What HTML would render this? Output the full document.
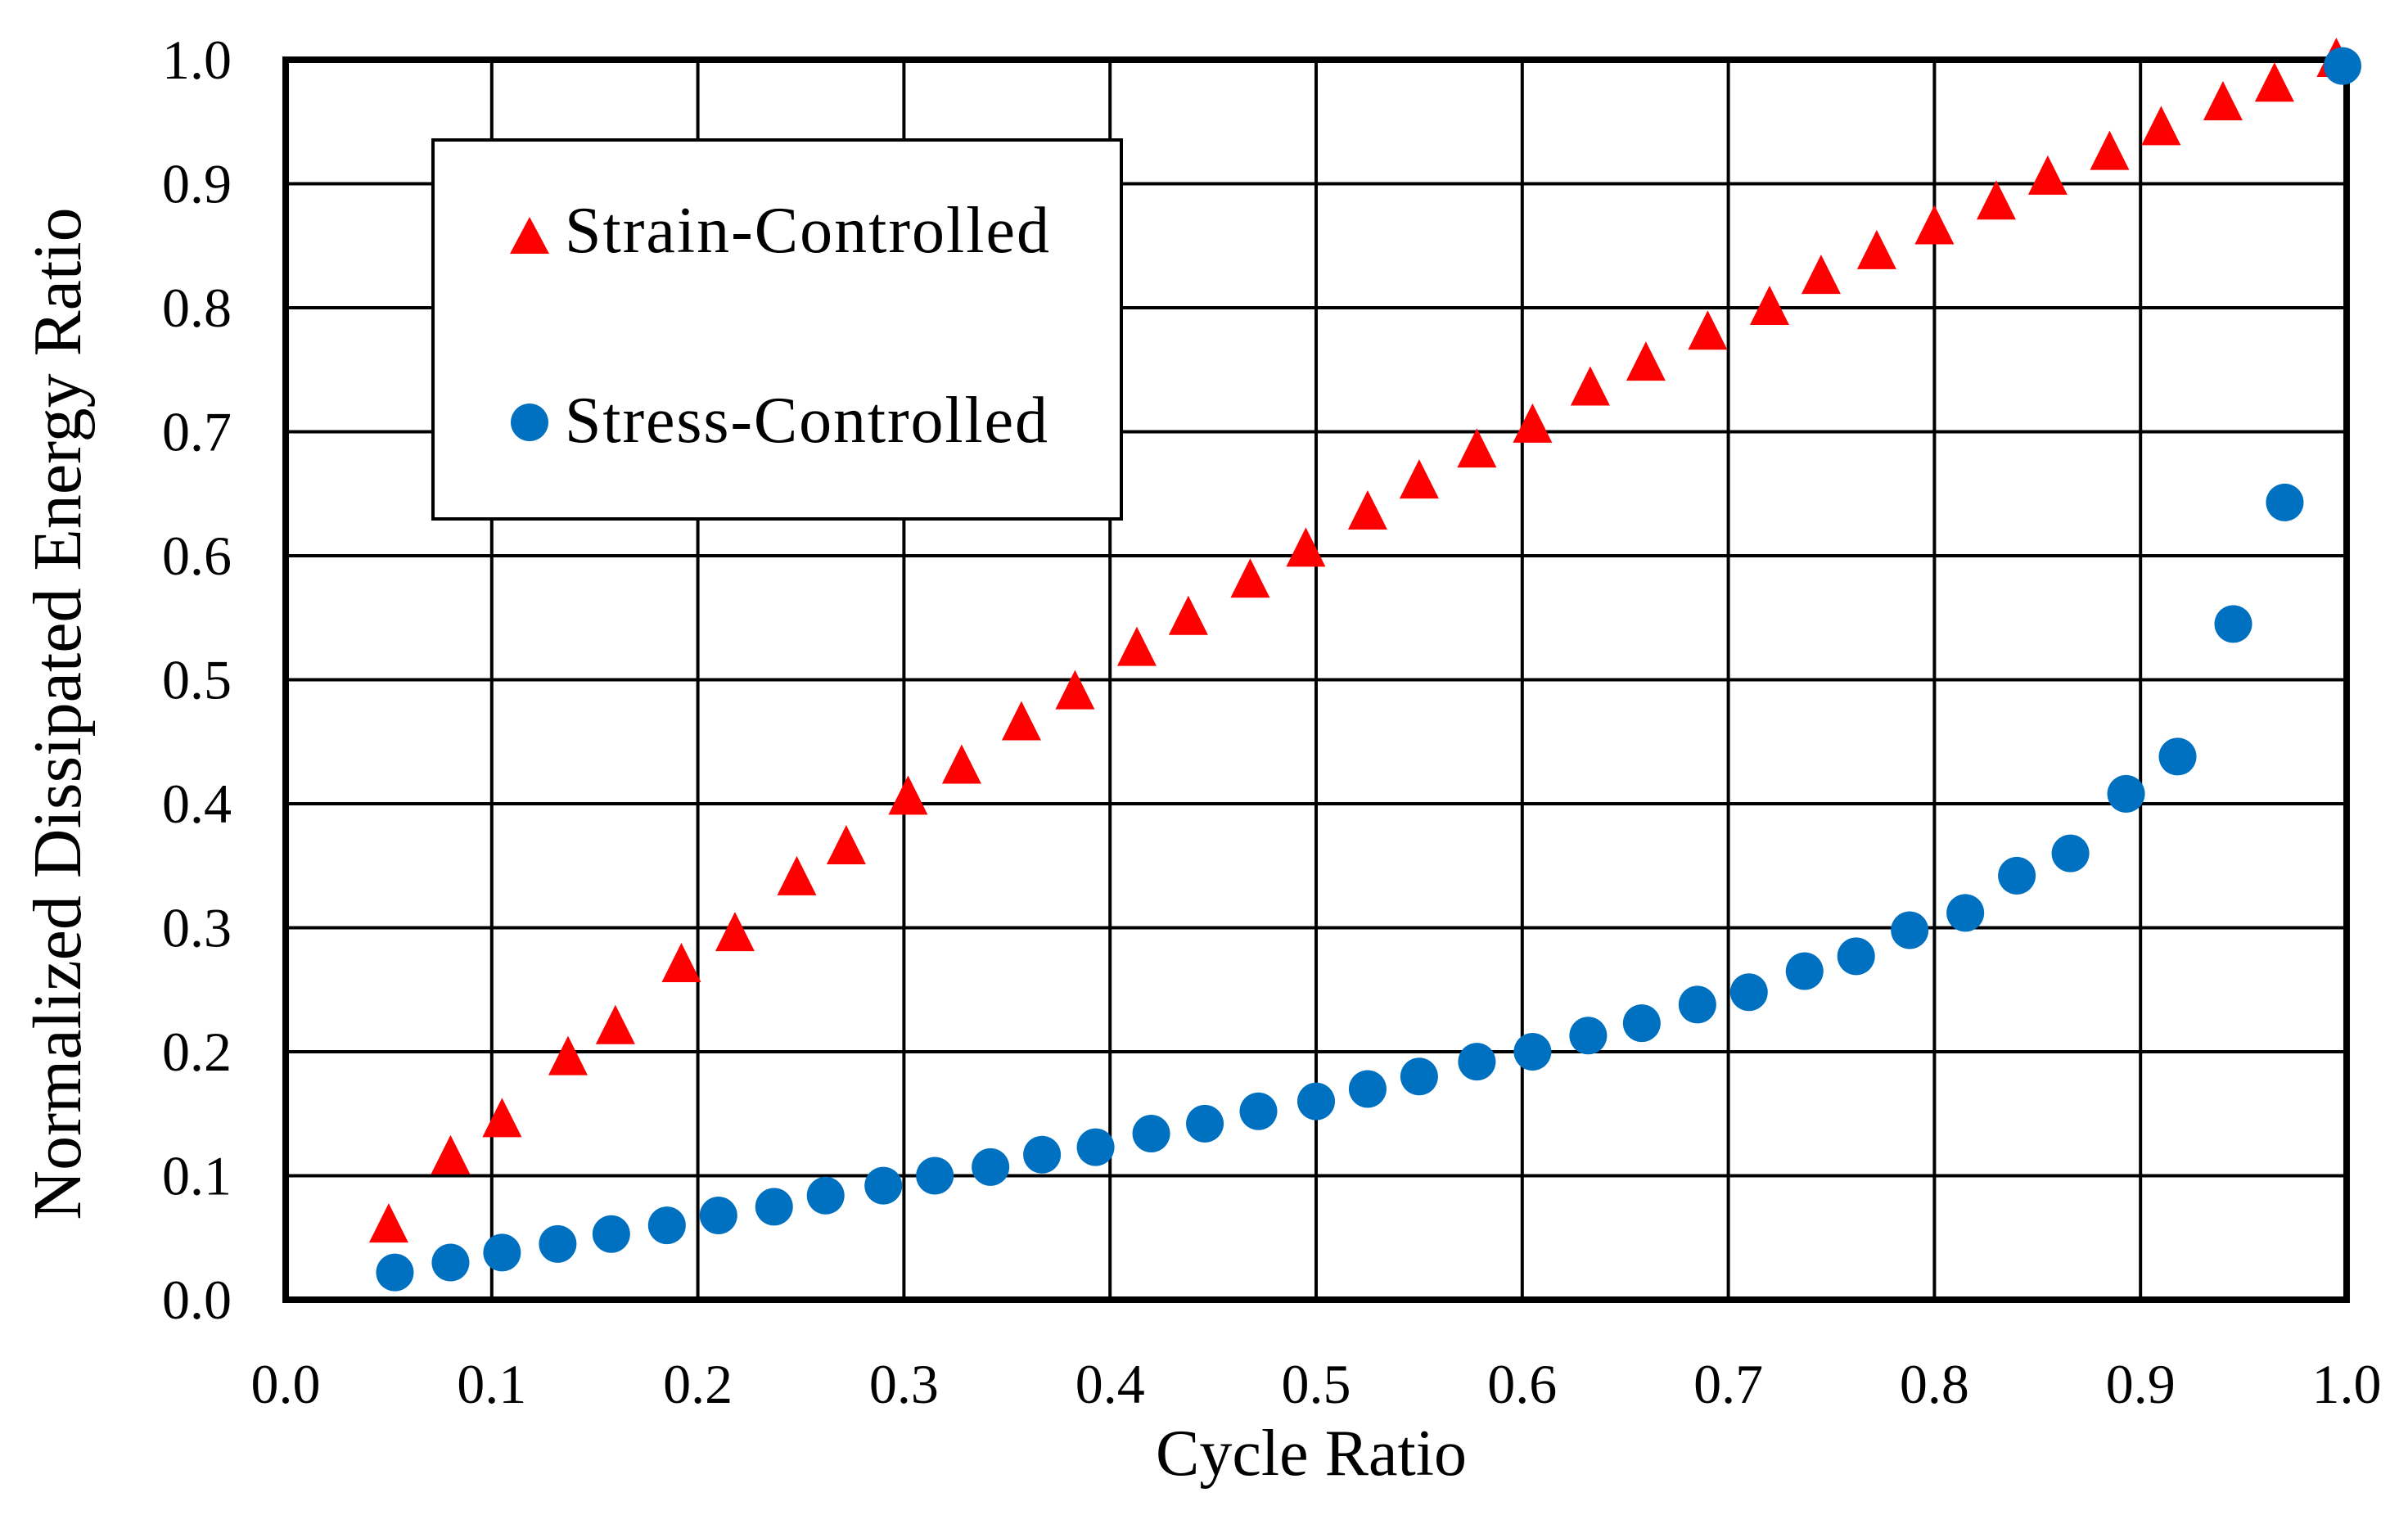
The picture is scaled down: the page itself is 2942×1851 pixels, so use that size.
<!DOCTYPE html>
<html><head><meta charset="utf-8"><style>
html,body{margin:0;padding:0;background:#fff;}
svg{display:block;}
text{font-family:"Liberation Serif",serif;fill:#000;}
</style></head><body>
<svg id="chart" width="2942" height="1851" viewBox="0 0 2942 1851">
<g id="grid"></g>
<g id="ticks"></g>
<g id="marks"></g>
<g>
<rect x="529" y="171" width="841" height="463" fill="#fff" stroke="#000" stroke-width="4"/>
<polygon points="623,310 671,310 647,265" fill="#ff0000"/>
<text x="690" y="308" font-size="80" textLength="592">Strain-Controlled</text>
<circle cx="647" cy="516" r="23" fill="#0070c0"/>
<text x="690" y="540" font-size="80" textLength="590">Stress-Controlled</text>
</g>
<text x="1602" y="1802" font-size="80" text-anchor="middle">Cycle Ratio</text>
<text transform="translate(98,872) rotate(-90)" font-size="84" text-anchor="middle">Normalized Dissipated Energy Ratio</text>
</svg>
<script>
const xTicks=["0.0","0.1","0.2","0.3","0.4","0.5","0.6","0.7","0.8","0.9","1.0"];
const yTicks=["0.0","0.1","0.2","0.3","0.4","0.5","0.6","0.7","0.8","0.9","1.0"];
const strainX=[0.05,0.08,0.105,0.137,0.16,0.192,0.218,0.248,0.272,0.302,0.328,0.357,0.383,0.413,0.438,0.468,0.495,0.525,0.55,0.578,0.605,0.633,0.66,0.69,0.72,0.745,0.772,0.8,0.83,0.855,0.885,0.91,0.94,0.965,0.995];
const strainY=[0.06,0.115,0.145,0.195,0.22,0.27,0.295,0.34,0.365,0.405,0.43,0.465,0.49,0.525,0.55,0.58,0.605,0.635,0.66,0.685,0.705,0.735,0.755,0.78,0.80,0.825,0.845,0.865,0.885,0.905,0.925,0.945,0.965,0.98,1.0];
const stressX=[0.053,0.08,0.105,0.132,0.158,0.185,0.21,0.237,0.262,0.29,0.315,0.342,0.367,0.393,0.42,0.446,0.472,0.5,0.525,0.55,0.578,0.605,0.632,0.658,0.685,0.71,0.737,0.762,0.788,0.815,0.84,0.866,0.893,0.918,0.945,0.97,0.998];
const stressY=[0.022,0.03,0.038,0.045,0.053,0.06,0.068,0.075,0.084,0.092,0.1,0.107,0.117,0.123,0.134,0.142,0.152,0.16,0.17,0.18,0.192,0.2,0.213,0.223,0.238,0.248,0.265,0.277,0.298,0.312,0.342,0.36,0.408,0.438,0.545,0.643,0.995];

const X0=349,X1=2867,Y0=1588,Y1=73;
function sx(v){return X0+(X1-X0)*v;}
function sy(v){return Y0-(Y0-Y1)*v;}
const NS="http://www.w3.org/2000/svg";
function mk(tag,attrs,parent){const e=document.createElementNS(NS,tag);for(const k in attrs)e.setAttribute(k,attrs[k]);parent.appendChild(e);return e;}
const grid=document.getElementById('grid'),ticks=document.getElementById('ticks'),marks=document.getElementById('marks');
xTicks.forEach((t,i)=>{const v=i/(xTicks.length-1);
 const l=mk('line',{x1:sx(v),x2:sx(v),y1:Y1,y2:Y0,stroke:'#000','stroke-width':4},grid);
 
 
 const tx=mk('text',{x:sx(v),y:1714,'font-size':68,'text-anchor':'middle'},ticks);tx.textContent=t;
 
 
});
yTicks.forEach((t,i)=>{const v=i/(yTicks.length-1);
 const l=mk('line',{x1:X0,x2:X1,y1:sy(v),y2:sy(v),stroke:'#000','stroke-width':4},grid);
 
 
 const tx=mk('text',{x:283,y:sy(v)+23,'font-size':68,'text-anchor':'end'},ticks);tx.textContent=t;
 
 
});
const frame=mk('rect',{x:X0,y:Y1,width:X1-X0,height:Y0-Y1,fill:'none',stroke:'#000','stroke-width':8},grid);


strainX.forEach((x,i)=>{const cx=sx(x),cy=sy(strainY[i]);
 const p=mk('polygon',{points:`${cx-24},${cy+21} ${cx+24},${cy+21} ${cx},${cy-27}`,fill:'#ff0000'},marks);
 
 
});
stressX.forEach((x,i)=>{
 const c=mk('circle',{cx:sx(x),cy:sy(stressY[i]),r:23,fill:'#0070c0'},marks);
 
 
});
</script>
</body></html>
